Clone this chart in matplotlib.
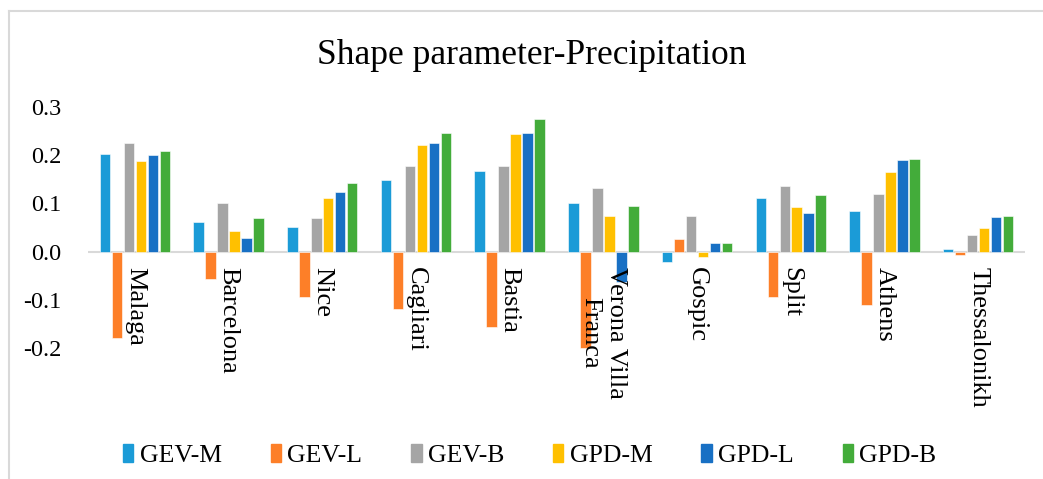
import numpy as np
import matplotlib.pyplot as plt
from matplotlib.lines import Line2D

cities = ["Malaga", "Barcelona", "Nice", "Cagliari", "Bastia", "Verona Villa\nFranca",
          "Gospic", "Split", "Athens", "Thessalonikh"]
series = ["GEV-M", "GEV-L", "GEV-B", "GPD-M", "GPD-L", "GPD-B"]

gev_m = [0.202, 0.061, 0.052, 0.148, 0.167, 0.101, -0.022, 0.111, 0.084, 0.006]
gev_l = [-0.180, -0.057, -0.094, -0.119, -0.157, -0.201, 0.027, -0.094, -0.111, -0.007]
gev_b = [0.225, 0.101, 0.070, 0.178, 0.177, 0.132, 0.074, 0.137, 0.120, 0.035]
gpd_m = [0.187, 0.043, 0.112, 0.221, 0.243, 0.074, -0.012, 0.092, 0.165, 0.049]
gpd_l = [0.200, 0.028, 0.124, 0.225, 0.247, -0.063, 0.017, 0.081, 0.190, 0.072]
gpd_b = [0.208, 0.070, 0.143, 0.246, 0.276, 0.094, 0.017, 0.117, 0.193, 0.074]

colors = ["#1b9bd7", "#fd7f28", "#a5a5a5", "#ffc000", "#1870c4", "#43ac3a"]

plt.rcParams['font.family'] = ['Liberation Serif', 'DejaVu Serif']

fig = plt.figure(figsize=(10.43, 4.79), dpi=100)
# plot area in pixels: x 88..1025, y 107 (0.3) .. 348 (-0.2)
ax = fig.add_axes([88 / 1043, 1 - 348 / 479, (1025 - 88) / 1043, (348 - 107) / 479])

x = np.arange(len(cities))
step = 0.128
width = 0.112
all_vals = [gev_m, gev_l, gev_b, gpd_m, gpd_l, gpd_b]
for i, vals in enumerate(all_vals):
    ax.bar(x + step * (i - 2.5), vals, width=width, color=colors[i], label=series[i],
           edgecolor='white', linewidth=0.4, clip_on=False, zorder=2)

ax.set_xlim(-0.5, len(cities) - 0.5)
ax.set_ylim(-0.2, 0.3)
ax.set_yticks([-0.2, -0.1, 0.0, 0.1, 0.2, 0.3])
ax.set_yticklabels(["-0.2", "-0.1", "0.0", "0.1", "0.2", "0.3"], fontsize=17.5)
ax.tick_params(axis='y', length=0, pad=19)
ax.set_xticks([])
for s in ['top', 'right', 'left', 'bottom']:
    ax.spines[s].set_visible(False)
ax.axhline(0, color='#d9d9d9', linewidth=1.5, zorder=1)

for i, c in enumerate(cities):
    ax.text(x[i], -0.031, c, rotation=-90, ha='center', va='top', fontsize=19, zorder=3)

fig.text(0.51, 0.885, "Shape parameter-Precipitation", ha='center', va='center', fontsize=25.5)

handles = [plt.Rectangle((0, 0), 1, 1, color=c) for c in colors]
fig.legend(handles, series, loc='center', bbox_to_anchor=(0.508, 0.05), ncol=6,
           frameon=False, fontsize=18.5, handlelength=0.4, handleheight=0.7,
           handletextpad=0.25, columnspacing=1.9, borderpad=0.2)

# outer chart border (light gray)
fig.add_artist(Line2D([8.5 / 1043, 8.5 / 1043], [0, 1 - 10.5 / 479], color='#d9d9d9',
                      linewidth=1.5, transform=fig.transFigure))
fig.add_artist(Line2D([8.5 / 1043, 1], [1 - 10.5 / 479, 1 - 10.5 / 479], color='#d9d9d9',
                      linewidth=1.5, transform=fig.transFigure))

fig.savefig("out.png", dpi=100)
